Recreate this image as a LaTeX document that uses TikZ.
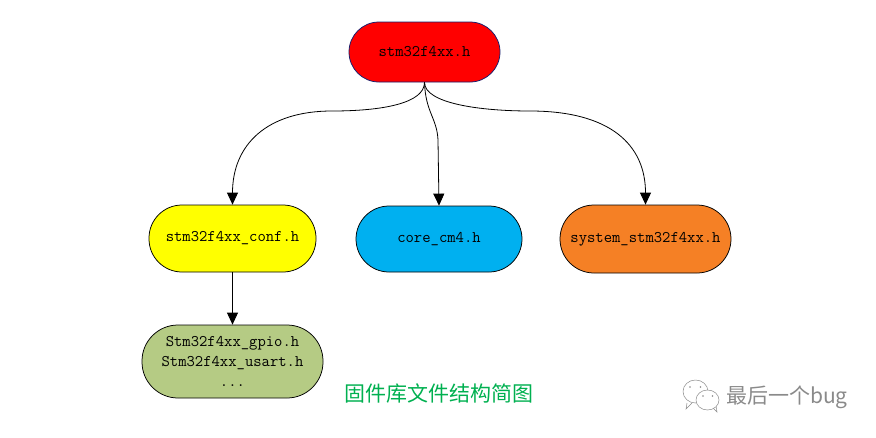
\documentclass[tikz,border=0pt]{standalone}
\usepackage{fontspec}
\setmainfont{Liberation Serif}
\newfontfamily\cjk{Noto Sans CJK SC}
\usetikzlibrary{arrows.meta}
\definecolor{redc}{HTML}{FF0000}
\definecolor{yellowc}{HTML}{FFFF00}
\definecolor{bluec}{HTML}{00B0F0}
\definecolor{orangec}{HTML}{F58025}
\definecolor{greenc}{HTML}{B5CB84}
\definecolor{titlec}{HTML}{00B050}
\definecolor{markc}{HTML}{8A8A8A}
\tikzset{
  x=1pt,y=-1pt,
  pill/.style={draw=black,line width=0.75pt,rounded corners=30pt,inner sep=0pt,align=center,
     font=\ttfamily\fontsize{16.2}{20}\selectfont},
  link/.style={draw=black,line width=0.8pt,-{Triangle[length=12pt,width=11pt]}},
  bubble/.style={draw=markc,line width=0.5pt,fill=white},
}
\begin{document}
\begin{tikzpicture}
\useasboundingbox (0,0) rectangle (876,437);
\node[pill,fill=redc,draw={rgb,255:red,20;green,30;blue,110},minimum width=151pt,minimum height=60pt] (top) at (424.5,52) {stm32f4xx.h};
\node[pill,fill=yellowc,rounded corners=33pt,minimum width=167pt,minimum height=67pt] (conf) at (232.5,238.5) {stm32f4xx\_conf.h};
\node[pill,fill=bluec,rounded corners=33pt,minimum width=166pt,minimum height=66pt] (core) at (439,239) {core\_cm4.h};
\node[pill,fill=orangec,rounded corners=34pt,minimum width=171pt,minimum height=68pt] (sys) at (645.5,239) {system\_stm32f4xx.h};
\node[pill,fill=greenc,rounded corners=36pt,minimum width=181pt,minimum height=73pt] (drv) at (232.5,361.5) {Stm32f4xx\_gpio.h\\Stm32f4xx\_usart.h\\...};
\coordinate (lm) at (332,111);
\coordinate (cm) at (438,140);
\coordinate (rm) at (530,111);
\path[link] (top.south) .. controls +(0,21) and +(50,0) .. (lm) .. controls +(-65,0) and +(0,-60) .. (conf.north);
\path[link] (top.south) .. controls +(1,30) and +(-1,-22) .. (cm) -- (core.north);
\path[link] (top.south) .. controls +(0,21) and +(-50,0) .. (rm) .. controls +(80,0) and +(0,-60) .. (sys.north);
\path[link] (conf.south) -- (drv.north);
\node[font=\cjk\fontsize{21}{21}\selectfont,text=titlec,inner sep=0pt] (title) at (439,393) {固件库文件结构简图};
\node[font=\cjk\fontsize{21}{21}\selectfont,text=markc,inner sep=0pt,anchor=west] (mark) at (726,397) {最后一个bug};
\draw[bubble] (687,403) -- (686,409) -- (692,403);
\draw[bubble] (695.5,391.5) ellipse (12.5pt and 11.5pt);
\draw[bubble] (713,408) -- (717,412) -- (716,406);
\draw[bubble] (707.5,400) ellipse (11.5pt and 10pt);
\fill[markc] (690,387) circle (0.9pt) (700.5,387) circle (0.9pt) (703,396) circle (0.9pt) (712.5,396) circle (0.9pt);
\end{tikzpicture}
\end{document}
